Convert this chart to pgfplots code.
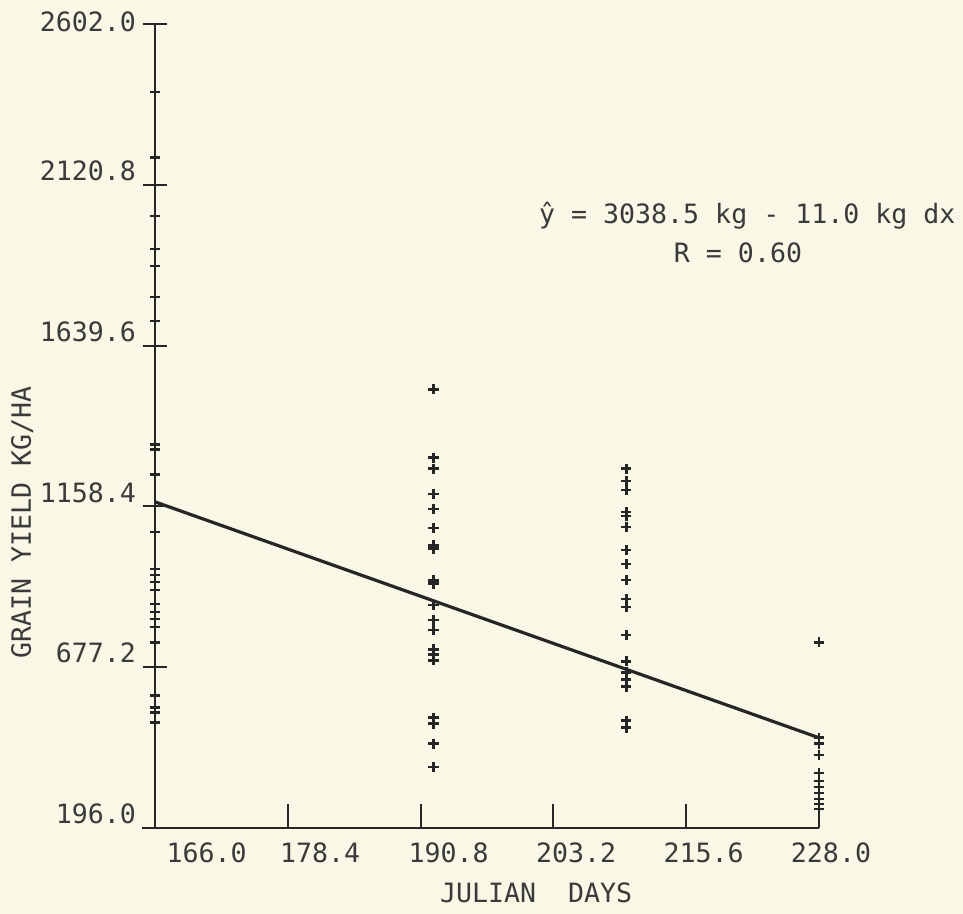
\documentclass[border=0pt]{standalone}
\usepackage{pgfplots}
\pgfplotsset{compat=1.18}
\usepackage{fontspec}
\newfontfamily\tw{DejaVu Sans Mono}
\definecolor{bg}{HTML}{F9F8E6}
\definecolor{ink}{HTML}{262626}
\definecolor{txt}{HTML}{3A3A3A}
\begin{document}
\begin{tikzpicture}
\fill[bg] (-77.5bp,-43bp) rectangle (404bp,414bp);
\begin{axis}[
  at={(0,0)}, anchor=south west,
  scale only axis, width=332bp, height=402bp,
  xmin=166, xmax=228, ymin=196, ymax=2602,
  clip=false,
  axis x line=bottom, axis y line=left,
  axis line style={-, ink, line width=1.1bp},
  xtick={178.4,190.8,203.2,215.6,228}, xticklabels={},
  extra x ticks={169.7,180.3,192.3,204.2,216.1,228.0},
  extra x tick labels={166.0,178.4,190.8,203.2,215.6,228.0},
  extra x tick style={major tick length=0pt},
  ytick={196,677.2,1158.4,1639.6,2120.8},
  yticklabels={196.0,677.2,1158.4,1639.6,2120.8},
  extra y ticks={2602}, extra y tick labels={2602.0},
  extra y tick style={yticklabel style={yshift=-6bp}},
  xtick align=inside, ytick align=center,
  major tick length=12bp,
  tick style={ink, line width=1bp},
  tick label style={font={\tw\fontsize{13.3bp}{16bp}\selectfont}, text=txt},
  yticklabel style={yshift=7bp},
  xticklabel style={yshift=-4bp, xshift=6bp},
  xlabel={JULIAN\ \ DAYS},
  xlabel style={at={(axis description cs:0.574,-0.081)}, anchor=center, font={\tw\fontsize{13.3bp}{16bp}\selectfont}, text=txt},
  ylabel={GRAIN YIELD KG/HA},
  ylabel style={at={(axis description cs:-0.2,0.38)}, anchor=center, font={\tw\fontsize{13.3bp}{16bp}\selectfont}, text=txt},
]
\addplot[only marks, mark=+, mark size=2.6bp, ink, mark options={line width=1.3bp}] table {
x y
166 2398
166 2203
166 2028
166 1929
166 1878
166 1785
166 1713
166 1343
166 1328
166 1253
166 1082
166 971
166 953
166 932
166 908
166 866
166 842
166 821
166 797
166 752
166 593
166 556
166 541
166 511
192 1509
192 1304
192 1271
192 1196
192 1151
192 1094
192 1042
192 1032
192 937
192 927
192 863
192 818
192 788
192 731
192 716
192 698
192 526
192 508
192 448
192 379
210 1271
210 1235
210 1208
210 1142
210 1130
210 1097
210 1028
210 986
210 938
210 881
210 857
210 773
210 695
210 662
210 641
210 620
210 517
210 496
228 752
228 466
228 448
228 415
228 361
228 337
228 319
228 301
228 283
228 268
228 253
};
\addplot[ink, line width=1.6bp] coordinates {(166,1172) (228,466)};
\draw[ink, line width=1.1bp] (axis cs:164.8,196) -- (axis cs:166,196);
\node[font={\tw\fontsize{13.3bp}{16bp}\selectfont}, text=txt] at (axis description cs:0.892,0.762) {ŷ = 3038.5 kg - 11.0 kg dx};
\node[font={\tw\fontsize{13.3bp}{16bp}\selectfont}, text=txt] at (axis description cs:0.878,0.715) {R = 0.60};
\end{axis}
\pgfresetboundingbox
\path (-77.5bp,-43bp) rectangle (404bp,414bp);
\end{tikzpicture}
\end{document}
